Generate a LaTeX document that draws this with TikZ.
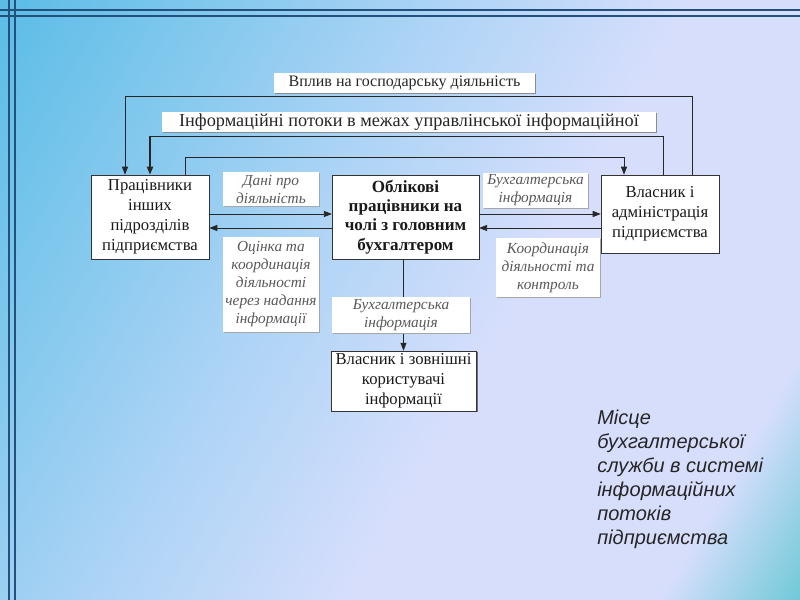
\documentclass[tikz,border=0pt]{standalone}
\usepackage{fontspec}
\setmainfont{Liberation Serif}
\newfontfamily\capfont{Liberation Sans}
\usetikzlibrary{arrows.meta,positioning,shadows}

\definecolor{bgA}{HTML}{5BBDE6}
\definecolor{bgB}{HTML}{AAD3F5}
\definecolor{bgC}{HTML}{D6DEFC}
\definecolor{bgD}{HTML}{4FC2CC}
\definecolor{rulecol}{HTML}{24507E}
\pgfdeclarehorizontalshading{slidebg}{100bp}{color(0bp)=(bgA); color(16bp)=(bgA); color(41bp)=(bgB); color(57bp)=(bgC); color(76bp)=(bgC); color(87bp)=(bgD); color(100bp)=(bgD)}

\begin{document}
\begin{tikzpicture}[x=0.75pt, y=-0.75pt, >={Triangle[length=6pt,width=4.5pt]},
  box/.style={draw=black!80, fill=white, align=center, inner sep=2pt, text=black!90,
    font=\fontsize{12.5}{15}\selectfont,
    drop shadow={shadow xshift=1pt, shadow yshift=-1pt, fill=black!55, opacity=1}},
  note/.style={fill=white, align=center, inner sep=1pt, text=black!65,
    font=\fontsize{11.5}{13.5}\selectfont\itshape,
    drop shadow={shadow xshift=0.8pt, shadow yshift=-0.8pt, fill=black!35, opacity=1}},
  band/.style={fill=white, inner sep=1pt, text=black!85,
    drop shadow={shadow xshift=0.8pt, shadow yshift=-0.8pt, fill=black!45, opacity=1}},
  flow/.style={black!85, line width=0.6pt}]
  \useasboundingbox (0,0) rectangle (800,600);
  \shade[shading=slidebg, shading angle=-30] (0,0) rectangle (800,600);
  \draw[rulecol, line width=1.2pt] (0,10) -- (800,10) (0,16) -- (800,16)
    (9,0) -- (9,600) (15,0) -- (15,600);

  % boxes
  \node[box, minimum width=88.5pt, minimum height=63pt] (wrk) at (150,217)
    {Працівники\\інших\\підрозділів\\підприємства};
  \node[box, minimum width=110pt, minimum height=63pt, font=\fontsize{12.8}{14.5}\selectfont\bfseries] (acc) at (405.5,217)
    {Облікові\\працівники на\\чолі з головним\\бухгалтером};
  \node[box, minimum width=88.5pt, minimum height=58.5pt] (own) at (660,214)
    {Власник і\\адміністрація\\підприємства};
  \node[box, minimum width=109pt, minimum height=43.5pt] (ext) at (403.5,381)
    {Власник і зовнішні\\користувачі\\інформації};

  % top loops
  \coordinate (r1) at (692,96);
  \coordinate (l1) at (125,96);
  \coordinate (r2) at (663,136);
  \coordinate (l2) at (150,136);
  \coordinate (l3) at (185,157);
  \coordinate (r3) at (624,157);
  \draw[flow,->] (r1 |- own.north) -- (r1) -- (l1) -- (l1 |- wrk.north);
  \draw[flow] (r2 |- own.north) -- (r2) -- (l2);
  \draw[flow, line width=1.4pt, ->] (l2) -- (l2 |- wrk.north);
  \draw[flow,->] (l3 |- wrk.north) -- (l3) -- (r3) -- (r3 |- own.north);

  % side flows
  \coordinate (ya) at (0,214);
  \coordinate (yb) at (0,228);
  \path[flow,->]
    (wrk.east |- ya) edge (acc.west |- ya)
    (acc.west |- yb) edge (wrk.east |- yb)
    (acc.east |- ya) edge (own.west |- ya)
    (own.west |- yb) edge (acc.east |- yb)
    (acc.south -| ext.north) edge (ext.north);

  % labels
  \node[band, minimum width=196pt, minimum height=15pt, font=\fontsize{12}{14}\selectfont] (infl) at (404.5,82.5)
    {Вплив на господарську діяльність};
  \node[band, minimum width=371pt, minimum height=15pt, font=\fontsize{13.7}{15}\selectfont] (mgmt) at (409,122)
    {Інформаційні потоки в межах управлінської інформаційної};
  \node[note, minimum width=72pt, minimum height=25.5pt] (data) at (271,189) {Дані про\\діяльність};
  \node[note, minimum width=72pt, minimum height=71pt] (eval) at (271,284.5)
    {Оцінка та\\координація\\діяльності\\через надання\\інформації};
  \node[note, minimum width=79pt, minimum height=26pt] (binfo) at (535.5,190.5) {Бухгалтерська\\інформація};
  \node[note, minimum width=78pt, minimum height=44pt] (ctrl) at (548,267.5)
    {Координація\\діяльності та\\контроль};
  \node[note, minimum width=103.5pt, minimum height=27pt] (binfo2) at (401,315) {Бухгалтерська\\інформація};

  \node[anchor=north west, align=left, inner sep=0pt, text=black!85,
    font=\capfont\itshape\fontsize{15}{18}\selectfont] (cap) at (597,410)
    {Місце\\бухгалтерської\\служби в системі\\інформаційних\\потоків\\підприємства};
\end{tikzpicture}
\end{document}
